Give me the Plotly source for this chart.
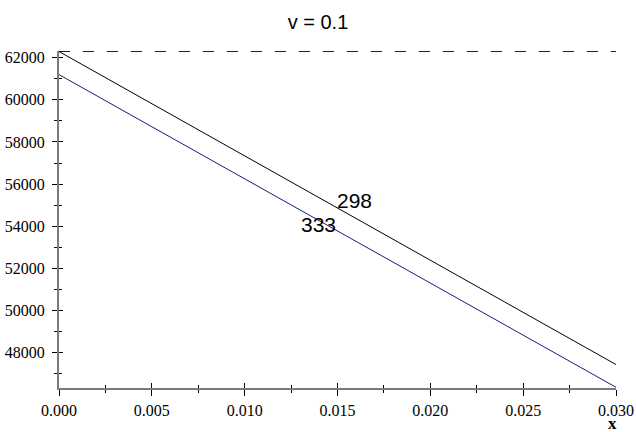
import plotly.graph_objects as go

# data
x_vals = [0.0, 0.030]
y_298 = [62285, 47445]
y_333 = [61190, 46367]
y_dashed = [62292, 62292]
label_298 = ("298", 0.01594, 55245)
label_333 = ("333", 0.01400, 54107)
x_ticks = [0.0, 0.005, 0.010, 0.015, 0.020, 0.025, 0.030]
x_ticklabels = ["0.000", "0.005", "0.010", "0.015", "0.020", "0.025", "0.030"]
y_ticks = [48000, 50000, 52000, 54000, 56000, 58000, 60000, 62000]
y_ticklabels = [str(v) for v in y_ticks]

XR = [0.0, 0.030]
YR = [46333, 62310]

fig = go.Figure()
fig.add_trace(go.Scatter(x=x_vals, y=y_298, mode="lines",
                         line=dict(color="black", width=1), showlegend=False,
                         hoverinfo="skip"))
fig.add_trace(go.Scatter(x=x_vals, y=y_333, mode="lines",
                         line=dict(color="#1a1a80", width=1), showlegend=False,
                         hoverinfo="skip"))
fig.add_trace(go.Scatter(x=x_vals, y=y_dashed, mode="lines", xaxis="x2", yaxis="y2",
                         line=dict(color="black", width=1, dash="11px,13px"),
                         showlegend=False, hoverinfo="skip"))

tickfont = dict(family="Liberation Serif", size=16, color="black")

fig.update_layout(
    width=636, height=432,
    margin=dict(l=59, r=20, t=51, b=44, autoexpand=False),
    paper_bgcolor="white", plot_bgcolor="white",
    title=dict(text="v = 0.1", x=0.5, xanchor="center", y=1 - 21.5 / 432,
               yanchor="middle", font=dict(family="Liberation Sans", size=20, color="black")),
    xaxis=dict(range=XR, showgrid=False, zeroline=False, showline=True, automargin=False,
               linecolor="#7a7a7a", linewidth=2, ticks="outside", ticklen=6,
               tickwidth=1, tickcolor="black", tickvals=x_ticks, ticktext=x_ticklabels,
               tickfont=tickfont, ticklabelstandoff=1,
               minor=dict(dtick=0.0025, ticks="outside", ticklen=3, tickwidth=1,
                          tickcolor="black", showgrid=False)),
    yaxis=dict(range=YR, showgrid=False, zeroline=False, showline=True, automargin=False,
               linecolor="#7a7a7a", linewidth=2, ticks="outside", ticklen=5,
               tickwidth=1, tickcolor="black", tickvals=y_ticks, ticktext=y_ticklabels,
               tickfont=tickfont, ticklabelstandoff=4,
               minor=dict(dtick=1000, tick0=47000, ticks="outside", ticklen=3, tickwidth=1,
                          tickcolor="black", showgrid=False)),
    xaxis2=dict(range=XR, overlaying="x", showgrid=False, zeroline=False, showline=False,
                automargin=False,
                ticks="inside", ticklen=5, tickwidth=1, tickcolor="black",
                tickvals=x_ticks, showticklabels=False,
                minor=dict(dtick=0.0025, ticks="inside", ticklen=3, tickwidth=1,
                           tickcolor="black", showgrid=False)),
    yaxis2=dict(range=YR, overlaying="y", showgrid=False, zeroline=False, showline=False,
                automargin=False,
                ticks="inside", ticklen=4, tickwidth=1, tickcolor="black",
                tickvals=y_ticks, showticklabels=False,
                minor=dict(dtick=1000, tick0=47000, ticks="inside", ticklen=3, tickwidth=1,
                           tickcolor="black", showgrid=False)),
    annotations=[
        dict(text=label_298[0], x=label_298[1], y=label_298[2], xref="x", yref="y",
             showarrow=False, font=dict(family="Liberation Sans", size=21, color="black")),
        dict(text=label_333[0], x=label_333[1], y=label_333[2], xref="x", yref="y",
             showarrow=False, font=dict(family="Liberation Sans", size=21, color="black")),
        dict(text="<b>x</b>", x=1, y=0, xref="paper", yref="paper", xanchor="center",
             yanchor="middle", xshift=-4, yshift=-35, showarrow=False,
             font=dict(family="Liberation Serif", size=17, color="black")),
    ],
)

fig.write_html("out.html")
